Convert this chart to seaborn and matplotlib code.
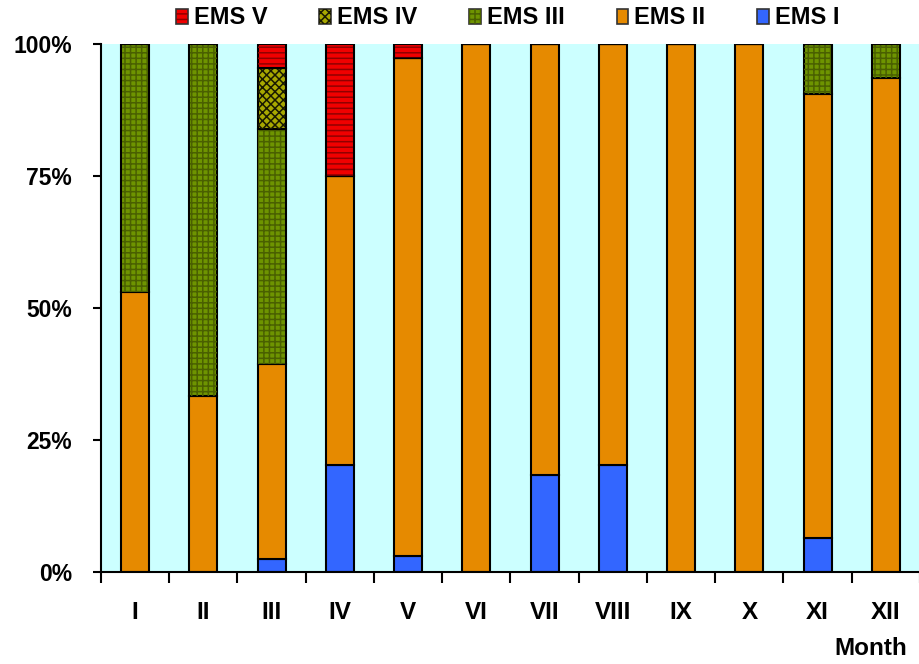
import numpy as np
import matplotlib
matplotlib.use("Agg")
import matplotlib.pyplot as plt
import matplotlib.patches as mpatches
from matplotlib.legend_handler import HandlerTuple
import seaborn as sns

# ── data (percent of observations per month) ──
months = ["I", "II", "III", "IV", "V", "VI", "VII", "VIII", "IX", "X", "XI", "XII"]
ems_1 = [0, 0, 2.4, 20.3, 3.0, 0, 18.3, 20.3, 0, 0, 6.5, 0]
ems_2 = [53.0, 33.3, 37.0, 54.7, 94.3, 100, 81.7, 79.7, 100, 100, 84.0, 93.5]
ems_3 = [47.0, 66.7, 44.5, 0, 0, 0, 0, 0, 0, 0, 9.5, 6.5]
ems_4 = [0, 0, 11.5, 0, 0, 0, 0, 0, 0, 0, 0, 0]
ems_5 = [0, 0, 4.6, 25.0, 2.7, 0, 0, 0, 0, 0, 0, 0]
series_names = ["EMS I", "EMS II", "EMS III", "EMS IV", "EMS V"]
y_ticks = [0, 25, 50, 75, 100]

# styles: face colour, hatch, hatch colour
styles = {
    "EMS I":   ("#3366FF", None, None),
    "EMS II":  ("#E68A00", None, None),
    "EMS III": ("#6E9400", "+++", "#4A6000"),
    "EMS IV":  ("#A8A800", "xxxx", "#1A1A00"),
    "EMS V":   ("#F00000", "---", "#900000"),
}

plt.rcParams["font.family"] = ["Liberation Sans", "DejaVu Sans"]
plt.rcParams["font.weight"] = "bold"
plt.rcParams["hatch.linewidth"] = 1.1

fig = plt.figure(figsize=(9.2, 6.64), dpi=100)
ax = fig.add_axes([101 / 920, 92 / 664, 819 / 920, 528 / 664])
ax.set_facecolor("#CCFFFF")

values = [ems_1, ems_2, ems_3, ems_4, ems_5]
bottom = np.zeros(len(months))
handles = []
for name, vals in zip(series_names, values):
    vals = np.array(vals, dtype=float)
    face, hatch, hcol = styles[name]
    sns.barplot(x=months, y=vals, bottom=bottom, color=face, edgecolor="black",
                linewidth=1.5, width=0.41, errorbar=None, saturation=1, ax=ax)
    base = mpatches.Patch(facecolor=face, edgecolor="#333333", linewidth=1.2)
    if hatch:
        sns.barplot(x=months, y=vals, bottom=bottom, color=hcol, fill=False,
                    hatch=hatch, linewidth=0, width=0.39, errorbar=None,
                    saturation=1, ax=ax)
        over = mpatches.Patch(facecolor="none", edgecolor=hcol, hatch=hatch, linewidth=0)
        handles.append((base, over))
    else:
        handles.append((base,))
    bottom += vals

# axes styling
ax.set_xlim(-0.5, 11.5)
ax.set_ylim(0, 100)
ax.set_yticks(y_ticks)
ax.set_yticklabels([f"{t}%" for t in y_ticks], fontsize=16.5, fontweight="bold")
ax.set_xticks(range(len(months)))
ax.set_xticklabels(months, fontsize=17.5, fontweight="bold")
ax.set_xticks(np.arange(-0.5, 12, 1), minor=True)
ax.tick_params(axis="x", which="major", length=0, pad=21)
ax.tick_params(axis="x", which="minor", length=8, width=1.5, direction="out")
ax.tick_params(axis="y", length=6, width=1.5, direction="out", pad=15)
for side in ["top", "right"]:
    ax.spines[side].set_visible(False)
for side in ["left", "bottom"]:
    ax.spines[side].set_linewidth(1.5)
    ax.spines[side].set_color("black")
ax.set_ylabel("")
ax.set_xlabel("Month", fontsize=17.5, fontweight="bold")
ax.xaxis.set_label_coords(0.984, -0.144)
ax.xaxis.label.set_ha("right")
ax.xaxis.label.set_va("center")

# legend, reversed order (EMS V first)
leg = fig.legend(handles[::-1], series_names[::-1], ncol=5, loc="center",
                 bbox_to_anchor=(0.552, 0.973), frameon=False,
                 handler_map={tuple: HandlerTuple(ndivide=1, pad=0)},
                 handlelength=0.5, handleheight=0.6, handletextpad=0.25,
                 columnspacing=2.2, borderpad=0.2,
                 prop={"size": 17, "weight": "bold"})

fig.savefig("out.png", dpi=100)
